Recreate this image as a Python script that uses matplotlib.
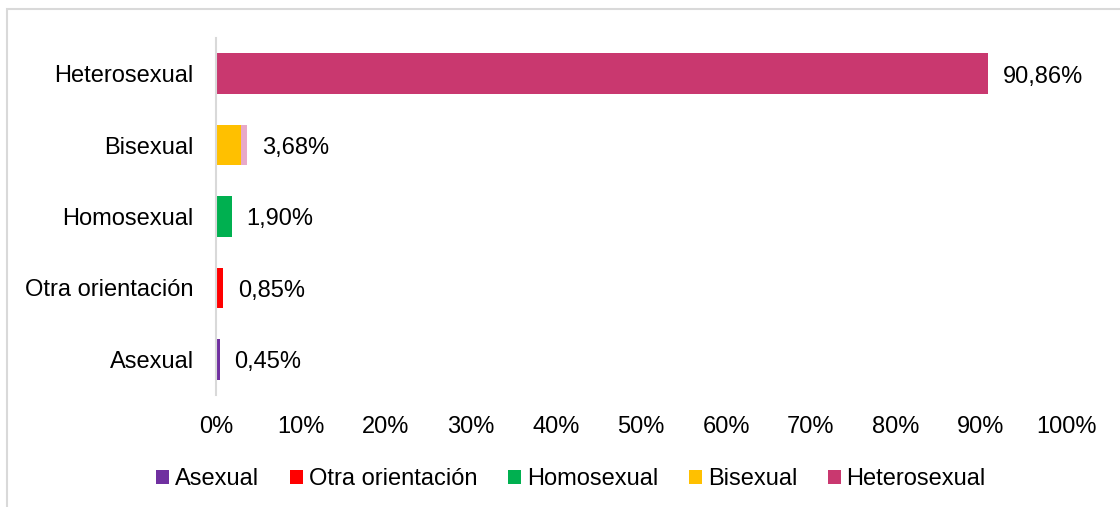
import matplotlib.pyplot as plt
from matplotlib.patches import Patch, Rectangle
from matplotlib.ticker import FuncFormatter

plt.rcParams['font.family'] = ['Liberation Sans', 'DejaVu Sans']

# data (bottom to top)
categories = ['Asexual', 'Otra orientación', 'Homosexual', 'Bisexual', 'Heterosexual']
values = [0.45, 0.85, 1.90, 3.68, 90.86]
colors = ['#7030A0', '#FF0000', '#00B050', '#FFC000', '#C9386F']
# the Bisexual bar shows a small light pink tip at its end
bisexual_main = 2.9
tip_color = '#E8A9C8'

fig = plt.figure(figsize=(11.2, 5.07), dpi=100)
ax = fig.add_axes([216 / 1120, 1 - 395 / 507, 850 / 1120, 357 / 507])

fs = 17
ypos = list(range(len(categories)))
for y, cat, val, col in zip(ypos, categories, values, colors):
    if cat == 'Bisexual':
        ax.barh(y, bisexual_main, height=0.57, color=col)
        ax.barh(y, val - bisexual_main, left=bisexual_main, height=0.57, color=tip_color)
    else:
        ax.barh(y, val, height=0.57, color=col)
    lbl = f'{val:.2f}'.replace('.', ',') + '%'
    ax.text(val + 1.7, y - 0.04, lbl, va='center', ha='left', fontsize=fs, color='#000000')

ax.set_xlim(0, 100)
ax.set_ylim(-0.5, len(categories) - 0.5)
ax.set_xticks(range(0, 101, 10))
ax.xaxis.set_major_formatter(FuncFormatter(lambda v, p: f'{int(v)}%'))
ax.set_yticks(ypos)
ax.set_yticklabels(categories)
ax.tick_params(axis='both', length=0, labelsize=fs, colors='#000000')
ax.tick_params(axis='x', pad=15)
ax.tick_params(axis='y', pad=16)
for side in ['top', 'right', 'bottom']:
    ax.spines[side].set_visible(False)
ax.spines['left'].set_color('#D9D9D9')
ax.spines['left'].set_linewidth(1.5)

# outer chart border
fig.patches.append(Rectangle((7 / 1120, -0.1), 1.2, 1 - 9 / 507 + 0.1,
                             transform=fig.transFigure, fill=False,
                             edgecolor='#D9D9D9', linewidth=1.5))

handles = [Patch(facecolor=c, label=l) for c, l in zip(colors, categories)]
fig.legend(handles=handles, loc='center', bbox_to_anchor=(571 / 1120, 1 - 479 / 507),
           ncol=5, frameon=False, fontsize=fs, handlelength=0.55, handleheight=0.55,
           handletextpad=0.25, columnspacing=1.3, borderaxespad=0)

plt.savefig('out.png', dpi=100)
